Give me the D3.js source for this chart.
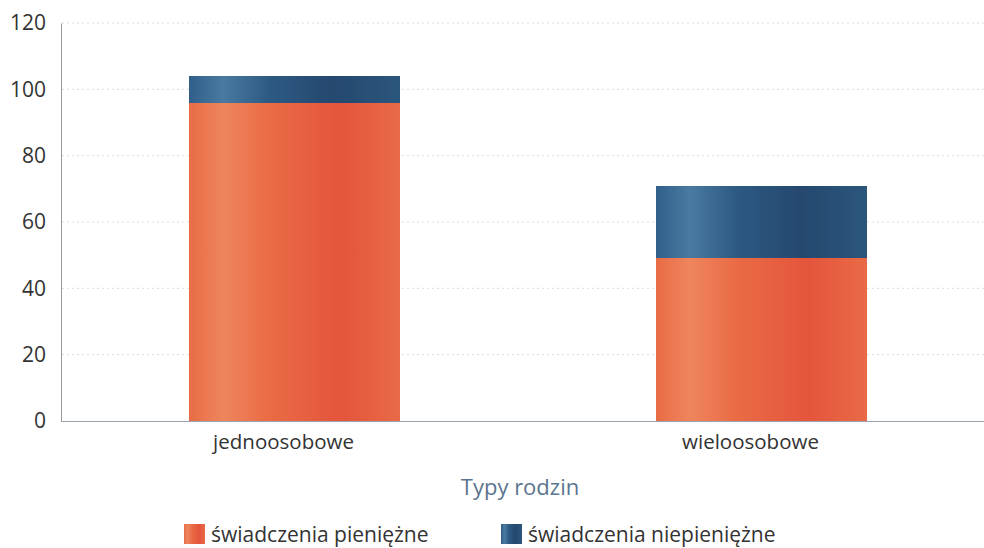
<!DOCTYPE html>
<html lang="pl">
<head>
    <meta charset="UTF-8">
    <title>Typy rodzin</title>
    <script src="https://d3js.org/d3.v7.min.js"></script>
    <style>
        body { margin: 0; background: #fff; }
        svg { display: block; }
        svg text { font-family: "Open Sans", "Noto Sans", sans-serif; }
        .grid line { stroke: #dcdcdc; stroke-dasharray: 2 3; }
        .tick text { fill: #333; font-size: 21px; }
        .layer rect { shape-rendering: crispEdges; }
    </style>
</head>
<body>
<script>
    const width = 984;
    const height = 548;

    const categories = ["jednoosobowe", "wieloosobowe"];
    const series = ["świadczenia pieniężne", "świadczenia niepieniężne"];
    const pieniezne = [96, 49];
    const niepieniezne = [8, 22];
    const yTicks = [0, 20, 40, 60, 80, 100, 120];

    const svg = d3.select("body").append("svg")
        .attr("width", width).attr("height", height);

    const x = d3.scaleBand().domain(categories)
        .range([61, 995]).paddingInner(0.55).paddingOuter(0.275);
    const y = d3.scaleLinear().domain([0, 120]).range([421, 23]);

    // gradients for the bars
    const defs = svg.append("defs");
    function grad(id, stops) {
        const g = defs.append("linearGradient").attr("id", id)
            .attr("x1", "0%").attr("x2", "100%").attr("y1", "0%").attr("y2", "0%");
        stops.forEach(s => g.append("stop").attr("offset", s[0]).attr("stop-color", s[1]));
    }
    grad("gOrange", [["0%", "#e96c45"], ["16%", "#ee855d"], ["38%", "#ea6b45"], ["72%", "#e4553c"], ["100%", "#e96a46"]]);
    grad("gBlue", [["0%", "#30608a"], ["16%", "#4a7aa0"], ["38%", "#2d5a82"], ["68%", "#25486f"], ["100%", "#2b567b"]]);

    // grid lines
    svg.append("g").attr("class", "grid")
        .selectAll("line").data(yTicks.filter(d => d > 0)).enter().append("line")
        .attr("x1", 62).attr("x2", width)
        .attr("y1", d => y(d)).attr("y2", d => y(d));

    const stacked = d3.stack().keys([0, 1])(categories.map((c, i) => ({0: pieniezne[i], 1: niepieniezne[i], cat: c})));
    const fills = ["url(#gOrange)", "url(#gBlue)"];

    svg.selectAll("g.layer").data(stacked).enter().append("g")
        .attr("class", "layer")
        .attr("fill", (d, i) => fills[i])
        .selectAll("rect").data(d => d).enter().append("rect")
        .attr("x", d => x(d.data.cat))
        .attr("width", x.bandwidth())
        .attr("y", d => y(d[1]))
        .attr("height", d => y(d[0]) - y(d[1]));

    // y axis
    const yAxis = svg.append("g").attr("transform", "translate(61,0)")
        .call(d3.axisLeft(y).tickValues(yTicks).tickSize(0).tickPadding(15));
    yAxis.select(".domain").attr("stroke", "#999");

    // x axis
    const xAxis = svg.append("g").attr("transform", "translate(0,421)")
        .call(d3.axisBottom(x).tickSize(0).tickPadding(13));
    xAxis.select(".domain").attr("d", "M61,0.5H" + width).attr("stroke", "#9aa5b0");
    xAxis.selectAll(".tick text").attr("dx", -11).style("font-size", "20.5px");

    svg.append("text")
        .attr("x", 520)
        .attr("y", 495)
        .attr("text-anchor", "middle")
        .attr("fill", "#5b7591")
        .style("font-size", "22px")
        .text("Typy rodzin");

    // legend
    const legendX = [184, 501];
    const lg = svg.selectAll("g.legend").data(series).enter().append("g")
        .attr("class", "legend")
        .attr("transform", (d, i) => "translate(" + legendX[i] + ",524)");
    lg.append("rect").attr("width", 21).attr("height", 20)
        .attr("fill", (d, i) => fills[i]);
    lg.append("text").attr("x", 27).attr("y", 18)
        .attr("fill", "#333").style("font-size", "21px")
        .text(d => d);
</script>
</body>
</html>
